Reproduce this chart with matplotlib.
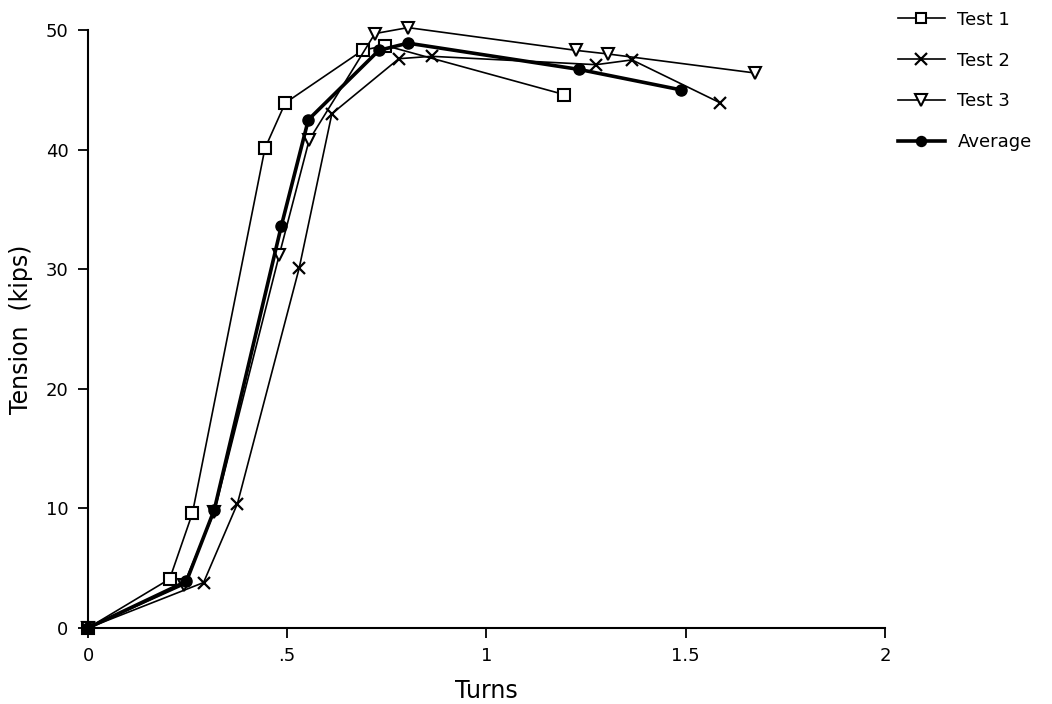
import matplotlib
matplotlib.use("Agg")
import matplotlib.pyplot as plt

# Data
test1_x = [0, 0.205, 0.262, 0.444, 0.495, 0.689, 0.746, 1.195]
test1_y = [0, 4.1, 9.6, 40.1, 43.9, 48.3, 48.7, 44.6]

test2_x = [0, 0.29, 0.375, 0.53, 0.612, 0.78, 0.862, 1.275, 1.365, 1.587]
test2_y = [0, 3.8, 10.4, 30.1, 43.0, 47.6, 47.8, 47.1, 47.5, 43.9]

test3_x = [0, 0.24, 0.317, 0.48, 0.555, 0.72, 0.803, 1.224, 1.304, 1.675]
test3_y = [0, 3.6, 9.7, 31.2, 40.8, 49.7, 50.2, 48.3, 48.0, 46.4]

avg_x = [0, 0.247, 0.317, 0.485, 0.553, 0.73, 0.803, 1.233, 1.487]
avg_y = [0, 3.9, 9.9, 33.6, 42.5, 48.3, 48.9, 46.7, 45.0]

xticks = [0, 0.5, 1, 1.5, 2]
xtick_labels = ["0", ".5", "1", "1.5", "2"]
yticks = [0, 10, 20, 30, 40, 50]

fig = plt.figure(figsize=(10.52, 7.04), dpi=100)
ax = fig.add_axes([88/1052, 76/704, 797/1052, 598/704])

ax.plot(test1_x, test1_y, color="black", lw=1.2, marker="s", ms=8,
        mfc="white", mec="black", mew=1.5, label="Test 1", clip_on=False)
ax.plot(test2_x, test2_y, color="black", lw=1.2, marker="x", ms=9,
        mew=1.6, label="Test 2", clip_on=False)
ax.plot(test3_x, test3_y, color="black", lw=1.2, marker="v", ms=9,
        mfc="white", mec="black", mew=1.5, label="Test 3", clip_on=False)
ax.plot(avg_x, avg_y, color="black", lw=2.6, marker="o", ms=8,
        mfc="black", mec="black", label="Average", clip_on=False)

ax.set_xlim(0, 2)
ax.set_ylim(0, 50)
ax.set_xticks(xticks)
ax.set_xticklabels(xtick_labels)
ax.set_yticks(yticks)
for s in ["top", "right"]:
    ax.spines[s].set_visible(False)
for s in ["left", "bottom"]:
    ax.spines[s].set_linewidth(1.5)
ax.tick_params(direction="out", length=7, width=1.3, labelsize=13, pad=7)
ax.set_xlabel("Turns", fontsize=17, labelpad=10)
ax.set_ylabel("Tension  (kips)", fontsize=17, labelpad=9)

handles, labels = ax.get_legend_handles_labels()
fig.legend(handles, labels, loc="upper left", bbox_to_anchor=(0.838, 1.008),
           frameon=False, fontsize=13, handlelength=2.6, labelspacing=1.27,
           handletextpad=0.7, markerscale=0.9)

fig.savefig("out.png", dpi=100)
